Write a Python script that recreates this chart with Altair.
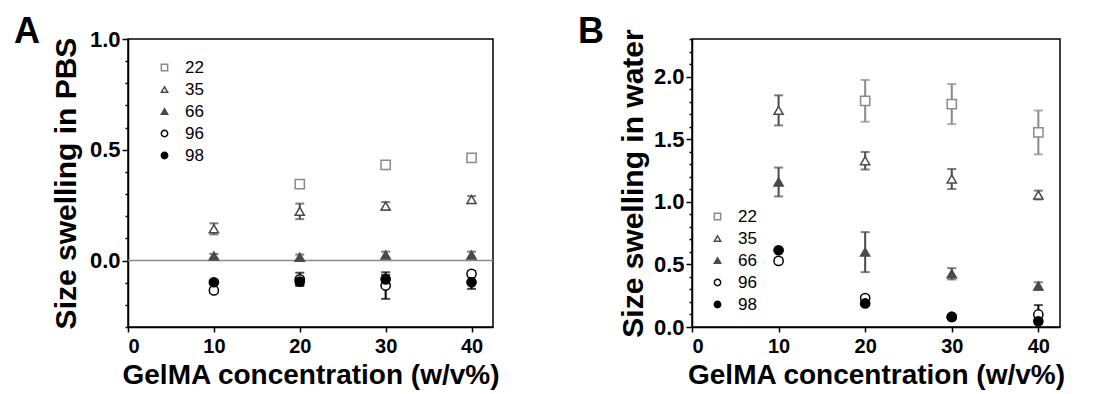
import altair as alt
import pandas as pd

FONT = "Liberation Sans"

conc = [10, 20, 30, 40]
series = ["22", "35", "66", "96", "98"]

# Panel A: size swelling in PBS (mean, error)
pbs = {
    "22": ([None, 0.345, 0.432, 0.463], [None, 0.010, 0.008, 0.008]),
    "35": ([0.143, 0.222, 0.246, 0.275], [0.025, 0.035, 0.018, 0.016]),
    "66": ([0.020, 0.015, 0.025, 0.025], [0.010, 0.012, 0.015, 0.015]),
    "96": ([-0.135, -0.085, -0.113, -0.060], [0.010, 0.030, 0.060, 0.012]),
    "98": ([-0.098, -0.095, -0.085, -0.098], [0.010, 0.015, 0.020, 0.030]),
}

# Panel B: size swelling in water (mean, error)
water = {
    "22": ([None, 1.806, 1.780, 1.554], [None, 0.167, 0.160, 0.175]),
    "35": ([1.730, 1.328, 1.182, 1.054], [0.120, 0.070, 0.080, 0.035]),
    "66": ([1.158, 0.598, 0.425, 0.327], [0.115, 0.160, 0.045, 0.030]),
    "96": ([0.528, 0.231, 0.080, 0.100], [0.020, 0.015, 0.010, 0.075]),
    "98": ([0.613, 0.188, 0.080, 0.046], [0.010, 0.010, 0.010, 0.010]),
}

shapes = ["square", "triangle-up", "triangle-up", "circle", "circle"]
stroke_colors = ["#8a8a8a", "#4a4a4a", "#4a4a4a", "#000000", "#000000"]
fill_colors = ["#ffffff", "#ffffff", "#4a4a4a", "#ffffff", "#000000"]
err_colors = ["#8a8a8a", "#4a4a4a", "#4a4a4a", "#000000", "#000000"]

x_ticks = [0, 10, 20, 30, 40]
pbs_yticks = [-0.3, -0.2, -0.1, 0.0, 0.1, 0.2, 0.3, 0.4, 0.5, 0.6, 0.7, 0.8, 0.9, 1.0]
water_yticks = [0.0, 0.1, 0.2, 0.3, 0.4, 0.5, 0.6, 0.7, 0.8, 0.9, 1.0, 1.1, 1.2,
                1.3, 1.4, 1.5, 1.6, 1.7, 1.8, 1.9, 2.0, 2.1, 2.2, 2.3]


def to_df(d):
    rows = []
    for s in series:
        vals, errs = d[s]
        for c, v, e in zip(conc, vals, errs):
            if v is None:
                continue
            rows.append({"series": s, "conc": c, "val": v, "lo": v - e, "hi": v + e})
    return pd.DataFrame(rows)


major_test = "abs(datum.value*2 - round(datum.value*2)) < 0.001"


def panel(d, ytitle, ydomain, yticks, letter, lx, ly, width, zero_line, title_pad):
    df = to_df(d)
    xenc = alt.X(
        "conc:Q",
        scale=alt.Scale(domain=[0, 42.5], nice=False, zero=False),
        axis=alt.Axis(values=x_ticks, format="d", title="GelMA concentration (w/v%)",
                      tickSize=5, labelPadding=4, titlePadding=5, labelFontSize=20),
    )
    yaxis = alt.Axis(
        values=yticks,
        labelExpr=f"{major_test} ? format(datum.value, '.1f') : ''",
        tickSize={"condition": {"test": major_test, "value": 6}, "value": 3},
        labelPadding=2,
        labelFontSize=22,
        title=ytitle,
        titleFontSize=30,
        titlePadding=title_pad,
    )
    yscale = alt.Scale(domain=ydomain, nice=False, zero=False)
    errc = alt.Color("series:N", scale=alt.Scale(domain=series, range=err_colors), legend=None)

    base = alt.Chart(df)
    rules = base.mark_rule(strokeWidth=2).encode(
        x=xenc, y=alt.Y("lo:Q", scale=yscale, axis=yaxis), y2="hi:Q", color=errc
    )
    cap_hi = base.mark_tick(orient="horizontal", size=9, thickness=2).encode(
        x=xenc, y=alt.Y("hi:Q", scale=yscale, axis=yaxis), color=errc
    )
    cap_lo = base.mark_tick(orient="horizontal", size=9, thickness=2).encode(
        x=xenc, y=alt.Y("lo:Q", scale=yscale, axis=yaxis), color=errc
    )
    leg = alt.Legend(orient="none", legendX=lx, legendY=ly, title=None,
                     labelFontSize=17, labelFont=FONT, labelFontWeight="normal",
                     symbolSize=40, symbolStrokeWidth=1.5, rowPadding=4, labelOffset=12)
    pts = base.mark_point(opacity=1, fillOpacity=1, strokeWidth=1.5, size=85).encode(
        x=xenc,
        y=alt.Y("val:Q", scale=yscale, axis=yaxis),
        shape=alt.Shape("series:N", scale=alt.Scale(domain=series, range=shapes), legend=leg),
        stroke=alt.Stroke("series:N", scale=alt.Scale(domain=series, range=stroke_colors), legend=leg),
        fill=alt.Fill("series:N", scale=alt.Scale(domain=series, range=fill_colors), legend=leg),
    )
    lab = alt.Chart(pd.DataFrame({"t": [letter]})).mark_text(
        fontSize=36, fontWeight="bold", font=FONT, align="left", baseline="alphabetic", color="black"
    ).encode(text="t:N", x=alt.value(-114), y=alt.value(4))

    layers = []
    if zero_line:
        layers.append(alt.Chart(pd.DataFrame({"z": [0.0]})).mark_rule(color="#8a8a8a", strokeWidth=1.5)
                      .encode(y=alt.Y("z:Q", scale=yscale, axis=yaxis)))
    layers += [rules, cap_hi, cap_lo, pts, lab]
    return alt.layer(*layers).properties(width=width, height=288).resolve_scale(
        shape="independent", stroke="independent", fill="independent")


A = panel(pbs, "Size swelling in PBS", [-0.3, 1.0], pbs_yticks, "A", 28, 20, 365, True, 8)
B = panel(water, "Size swelling in water", [0.0, 2.3], water_yticks, "B", 17, 169, 368, False, 5)

chart = alt.hconcat(A, B, spacing=76).resolve_scale(
    shape="independent", stroke="independent", fill="independent", color="independent"
).resolve_legend(shape="independent", stroke="independent", fill="independent").configure(
    background="white"
).configure_axis(
    labelFont=FONT, labelFontWeight="bold", labelColor="black",
    titleFont=FONT, titleFontSize=28, titleFontWeight="bold", titleColor="black",
    domainColor="black", domainWidth=1.5, tickColor="black", tickWidth=1.5, grid=False,
).configure_view(stroke="black", strokeWidth=1.5)

chart.save("out.html", embed_options={"renderer": "svg", "actions": False})
